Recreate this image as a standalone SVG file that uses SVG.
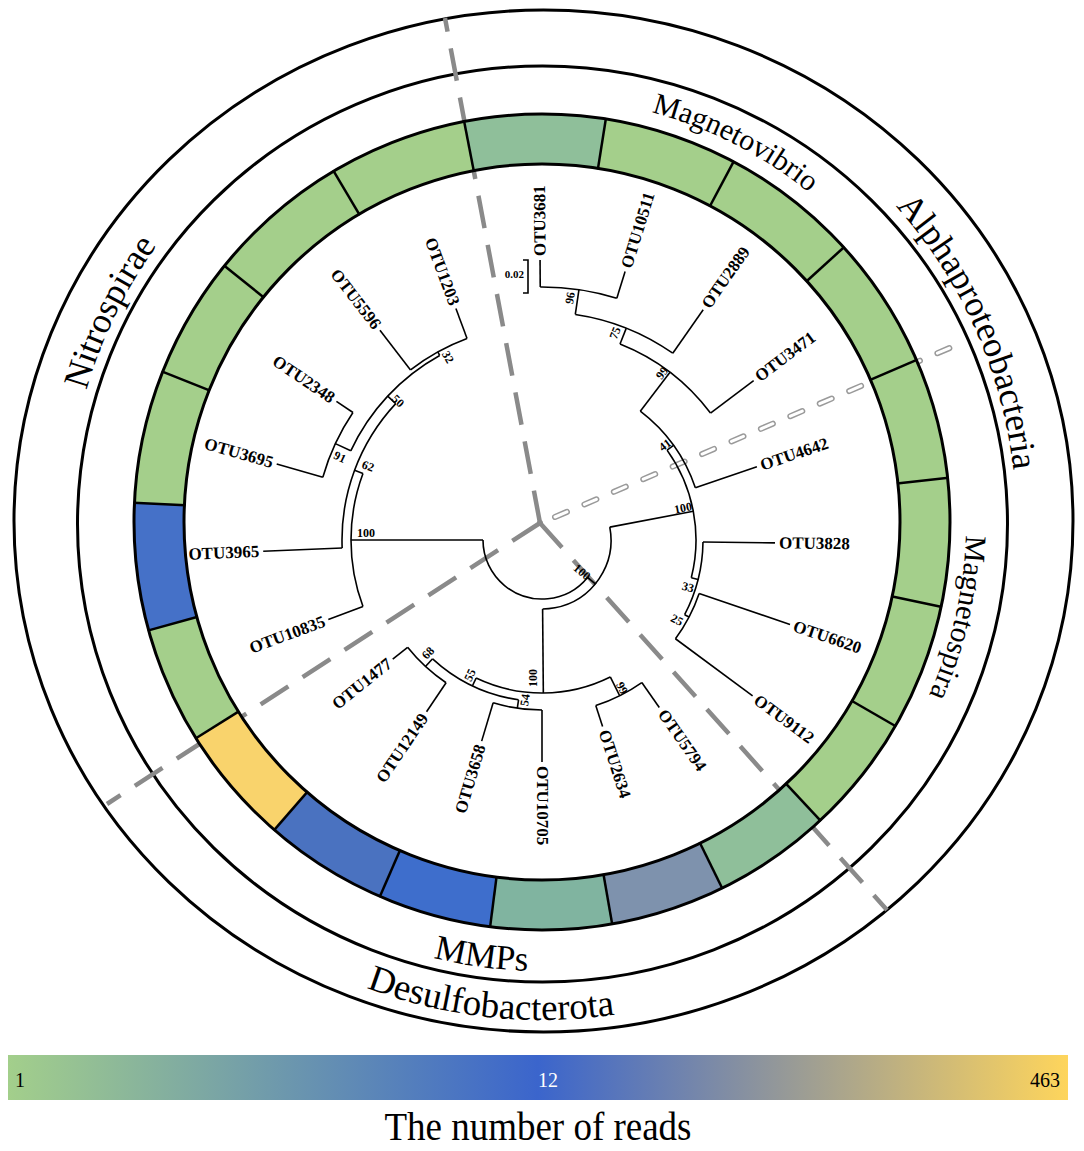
<svg xmlns="http://www.w3.org/2000/svg" width="1084" height="1151" viewBox="0 0 1084 1151">
<defs>
<linearGradient id="gbar" x1="0" x2="1" y1="0" y2="0">
<stop offset="0" stop-color="#a3cf8b"/>
<stop offset="0.5" stop-color="#3b65cc"/>
<stop offset="1" stop-color="#fed55c"/>
</linearGradient>
<path id="tpIn" d="M542 98 A424 424 0 1 1 542 946 A424 424 0 1 1 542 98"/>
<path id="tpOut" d="M542 48 A474 474 0 1 1 542 996 A474 474 0 1 1 542 48"/>
<path id="tpMMP" d="M542 73 A449 449 0 1 0 542 971 A449 449 0 1 0 542 73"/>
<path id="tpDes" d="M542 24 A498 498 0 1 0 542 1020 A498 498 0 1 0 542 24"/>
<style>
.rg{fill:none;stroke:#000;stroke-width:3}
.br{fill:none;stroke:#000;stroke-width:1.6}
.arc{fill:none;stroke:#000;stroke-width:1.6}
.hs{fill:none;stroke-width:50}
.hb{stroke:#000;stroke-width:2.5}
.dsh{stroke:#8a8a8a;stroke-width:4.5;stroke-dasharray:33 17}
.lf{font-family:"Liberation Serif",serif;font-weight:bold;font-size:17px;dominant-baseline:central}
.bs{font-family:"Liberation Serif",serif;font-weight:bold;font-size:12px;text-anchor:middle;dominant-baseline:central}
.lb{font-family:"Liberation Serif",serif;font-size:30px;text-anchor:middle}
.lo{font-family:"Liberation Serif",serif;font-size:36px;text-anchor:middle}
.lm{font-family:"Liberation Serif",serif;font-size:35px;text-anchor:middle}
.ld{font-family:"Liberation Serif",serif;font-size:37px;text-anchor:middle}
.cb{font-family:"Liberation Serif",serif;font-size:20px}
</style>
</defs>
<rect width="1084" height="1151" fill="#fff"/>

<g id="label-rings">
<ellipse cx="543.5" cy="521" rx="529.5" ry="511" class="rg"/>
<ellipse cx="542.5" cy="524" rx="465" ry="458" class="rg"/>
</g>

<g id="dividers">
<line x1="540" y1="523" x2="445" y2="18" class="dsh"/>
<line x1="540" y1="523" x2="887" y2="910" class="dsh"/>
<line x1="540" y1="523" x2="107" y2="804" class="dsh"/>
<line x1="555" y1="517" x2="966" y2="341" stroke="#9a9a9a" stroke-width="6" stroke-linecap="round" stroke-dasharray="13 19"/>
<line x1="555" y1="517" x2="966" y2="341" stroke="#fff" stroke-width="3" stroke-linecap="round" stroke-dasharray="13 19"/>
<circle cx="540" cy="523" r="3" fill="#888"/>
</g>

<g id="heatmap" transform="translate(542 522)">
<circle r="383" class="hs" stroke="#a4cf8b"/>
<circle r="383" class="hs" pathLength="360" stroke-dasharray="20 400" transform="rotate(-101)" stroke="#8fbf9a"/>
<circle r="383" class="hs" pathLength="360" stroke-dasharray="16.8 400" transform="rotate(47)" stroke="#8fbf9a"/>
<circle r="383" class="hs" pathLength="360" stroke-dasharray="16.3 400" transform="rotate(63.8)" stroke="#7e92ad"/>
<circle r="383" class="hs" pathLength="360" stroke-dasharray="17.2 400" transform="rotate(80.1)" stroke="#80b4a0"/>
<circle r="383" class="hs" pathLength="360" stroke-dasharray="16.1 400" transform="rotate(97.3)" stroke="#3e6ecc"/>
<circle r="383" class="hs" pathLength="360" stroke-dasharray="17.6 400" transform="rotate(113.4)" stroke="#4a72c0"/>
<circle r="383" class="hs" pathLength="360" stroke-dasharray="17 400" transform="rotate(131)" stroke="#f9d36c"/>
<circle r="383" class="hs" pathLength="360" stroke-dasharray="18.1 400" transform="rotate(164.6)" stroke="#4571c8"/>
<g class="hb">
<line y1="-357" y2="-409" transform="rotate(-11)"/>
<line y1="-357" y2="-409" transform="rotate(9)"/>
<line y1="-357" y2="-409" transform="rotate(28)"/>
<line y1="-357" y2="-409" transform="rotate(47.7)"/>
<line y1="-357" y2="-409" transform="rotate(66.6)"/>
<line y1="-357" y2="-409" transform="rotate(83.8)"/>
<line y1="-357" y2="-409" transform="rotate(102)"/>
<line y1="-357" y2="-409" transform="rotate(120)"/>
<line y1="-357" y2="-409" transform="rotate(137)"/>
<line y1="-357" y2="-409" transform="rotate(153.8)"/>
<line y1="-357" y2="-409" transform="rotate(170.1)"/>
<line y1="-357" y2="-409" transform="rotate(187.3)"/>
<line y1="-357" y2="-409" transform="rotate(203.4)"/>
<line y1="-357" y2="-409" transform="rotate(221)"/>
<line y1="-357" y2="-409" transform="rotate(238)"/>
<line y1="-357" y2="-409" transform="rotate(254.6)"/>
<line y1="-357" y2="-409" transform="rotate(272.7)"/>
<line y1="-357" y2="-409" transform="rotate(291.6)"/>
<line y1="-357" y2="-409" transform="rotate(308.9)"/>
<line y1="-357" y2="-409" transform="rotate(329.3)"/>
</g>
<circle r="358" class="rg"/>
<circle r="408" class="rg"/>
</g>

<g id="connectors" transform="translate(542 540)">
<g class="arc">
<circle r="59" pathLength="360" stroke-dasharray="140.6 400" transform="rotate(39.4)"/>
<circle r="69" pathLength="360" stroke-dasharray="100.25 400" transform="rotate(-10.75)"/>
<circle r="154" pathLength="360" stroke-dasharray="49.9 400" transform="rotate(-35.7)"/>
<circle r="162" pathLength="360" stroke-dasharray="33.85 400" transform="rotate(-52.65)"/>
<circle r="211" pathLength="360" stroke-dasharray="31.3 400" transform="rotate(-68.3)"/>
<circle r="228" pathLength="360" stroke-dasharray="26.6 400" transform="rotate(-81.6)"/>
<circle r="253" pathLength="360" stroke-dasharray="17.6 400" transform="rotate(-90.4)"/>
<circle r="161" pathLength="360" stroke-dasharray="26.95 400" transform="rotate(0.7)"/>
<circle r="166" pathLength="360" stroke-dasharray="17.7 400" transform="rotate(18.8)"/>
<circle r="153" pathLength="360" stroke-dasharray="52 400" transform="rotate(63.5)"/>
<circle r="174" pathLength="360" stroke-dasharray="17 400" transform="rotate(55)"/>
<circle r="161.5" pathLength="360" stroke-dasharray="34.3 400" transform="rotate(98.35)"/>
<circle r="170" pathLength="360" stroke-dasharray="16.7 400" transform="rotate(90)"/>
<circle r="172" pathLength="360" stroke-dasharray="17.5 400" transform="rotate(123.9)"/>
<circle r="191" pathLength="360" stroke-dasharray="40.8 400" transform="rotate(159.6)"/>
<circle r="200" pathLength="360" stroke-dasharray="45.3 400" transform="rotate(177.7)"/>
<circle r="211" pathLength="360" stroke-dasharray="36 400" transform="rotate(205)"/>
<circle r="228" pathLength="360" stroke-dasharray="18 400" transform="rotate(196)"/>
<circle r="215" pathLength="360" stroke-dasharray="17.3 400" transform="rotate(232.3)"/>
</g>
<g class="br">
<line y1="-59" y2="-69" transform="rotate(129.4)"/>
<line y1="-69" y2="-154" transform="rotate(79.25)"/>
<line y1="-69" y2="-153" transform="rotate(179.5)"/>
<line y1="-59" y2="-191" transform="rotate(270)"/>
<line y1="-154" y2="-162" transform="rotate(54.3)"/>
<line y1="-162" y2="-227" transform="rotate(71.2)"/>
<line y1="-162" y2="-211" transform="rotate(37.35)"/>
<line y1="-211" y2="-265" transform="rotate(53)"/>
<line y1="-211" y2="-228" transform="rotate(21.7)"/>
<line y1="-228" y2="-281" transform="rotate(35)"/>
<line y1="-228" y2="-253" transform="rotate(8.4)"/>
<line y1="-253" y2="-280" transform="rotate(-0.4)"/>
<line y1="-253" y2="-281" transform="rotate(17.2)"/>
<line y1="-154" y2="-161" transform="rotate(104.2)"/>
<line y1="-161" y2="-233" transform="rotate(90.7)"/>
<line y1="-161" y2="-166" transform="rotate(117.65)"/>
<line y1="-166" y2="-262" transform="rotate(108.8)"/>
<line y1="-166" y2="-262" transform="rotate(126.5)"/>
<line y1="-153" y2="-174" transform="rotate(153.5)"/>
<line y1="-174" y2="-204.5" transform="rotate(145)"/>
<line y1="-174" y2="-196" transform="rotate(162)"/>
<line y1="-153" y2="-161.5" transform="rotate(205.5)"/>
<line y1="-161.5" y2="-170" transform="rotate(188.35)"/>
<line y1="-170" y2="-222" transform="rotate(180)"/>
<line y1="-170" y2="-210" transform="rotate(196.7)"/>
<line y1="-161.5" y2="-172" transform="rotate(222.65)"/>
<line y1="-172" y2="-207" transform="rotate(213.9)"/>
<line y1="-172" y2="-191" transform="rotate(231.4)"/>
<line y1="-191" y2="-228" transform="rotate(249.6)"/>
<line y1="-191" y2="-200" transform="rotate(290.4)"/>
<line y1="-200" y2="-279" transform="rotate(267.7)"/>
<line y1="-200" y2="-211" transform="rotate(313)"/>
<line y1="-211" y2="-228" transform="rotate(295)"/>
<line y1="-228" y2="-276" transform="rotate(286)"/>
<line y1="-228" y2="-248" transform="rotate(304)"/>
<line y1="-211" y2="-215" transform="rotate(331)"/>
<line y1="-215" y2="-265" transform="rotate(322.3)"/>
<line y1="-215" y2="-247" transform="rotate(339.6)"/>
</g>
</g>

<g id="leaves" transform="translate(542 540)">
<g id="OTU3681"><text class="lf" transform="rotate(-90.4) translate(284 0)">OTU3681</text></g>
<g id="OTU10511"><text class="lf" transform="rotate(-72.8) translate(285 0)">OTU10511</text></g>
<g id="OTU2889"><text class="lf" transform="rotate(-55) translate(285 0)">OTU2889</text></g>
<g id="OTU3471"><text class="lf" transform="rotate(-37) translate(269 0)">OTU3471</text></g>
<g id="OTU4642"><text class="lf" transform="rotate(-18.8) translate(231 0)">OTU4642</text></g>
<g id="OTU3828"><text class="lf" transform="rotate(0.7) translate(237 0)">OTU3828</text></g>
<g id="OTU6620"><text class="lf" transform="rotate(18.8) translate(266 0)">OTU6620</text></g>
<g id="OTU9112"><text class="lf" transform="rotate(36.5) translate(266 0)">OTU9112</text></g>
<g id="OTU5794"><text class="lf" transform="rotate(55) translate(209 0)">OTU5794</text></g>
<g id="OTU2634"><text class="lf" transform="rotate(72) translate(200 0)">OTU2634</text></g>
<g id="OTU10705"><text class="lf" transform="rotate(90) translate(226 0)">OTU10705</text></g>
<g id="OTU3658"><text class="lf" text-anchor="end" transform="rotate(-73.3) translate(-214 0)">OTU3658</text></g>
<g id="OTU12149"><text class="lf" text-anchor="end" transform="rotate(-56.1) translate(-211 0)">OTU12149</text></g>
<g id="OTU1477"><text class="lf" text-anchor="end" transform="rotate(-38.6) translate(-195 0)">OTU1477</text></g>
<g id="OTU10835"><text class="lf" text-anchor="end" transform="rotate(-20.4) translate(-232 0)">OTU10835</text></g>
<g id="OTU3965"><text class="lf" text-anchor="end" transform="rotate(-2.3) translate(-283 0)">OTU3965</text></g>
<g id="OTU3695"><text class="lf" text-anchor="end" transform="rotate(16) translate(-280 0)">OTU3695</text></g>
<g id="OTU2348"><text class="lf" text-anchor="end" transform="rotate(34) translate(-252 0)">OTU2348</text></g>
<g id="OTU5596"><text class="lf" text-anchor="end" transform="rotate(52.3) translate(-269 0)">OTU5596</text></g>
<g id="OTU1203"><text class="lf" text-anchor="end" transform="rotate(69.6) translate(-251 0)">OTU1203</text></g>
</g>

<g id="bootstrap">
<text class="bs" x="570" y="298" transform="rotate(-81 570 298)">96</text>
<text class="bs" x="615" y="333" transform="rotate(-68 615 333)">75</text>
<text class="bs" x="662" y="373" transform="rotate(-52.5 662 373)">99</text>
<text class="bs" x="665" y="445" transform="rotate(-36 665 445)">41</text>
<text class="bs" x="683" y="508" transform="rotate(-11 683 508)">100</text>
<text class="bs" x="688" y="587" transform="rotate(14 688 587)">33</text>
<text class="bs" x="677" y="620" transform="rotate(27 677 620)">25</text>
<text class="bs" x="582" y="572" transform="rotate(40 582 572)">100</text>
<text class="bs" x="622" y="688" transform="rotate(63.5 622 688)">99</text>
<text class="bs" x="533" y="678" transform="rotate(-90 533 678)">100</text>
<text class="bs" x="525" y="700" transform="rotate(-81.5 525 700)">54</text>
<text class="bs" x="470" y="675" transform="rotate(-64 470 675)">55</text>
<text class="bs" x="428" y="653" transform="rotate(-47 428 653)">68</text>
<text class="bs" x="366" y="533">100</text>
<text class="bs" x="368" y="466" transform="rotate(20 368 466)">62</text>
<text class="bs" x="340" y="457" transform="rotate(25 340 457)">91</text>
<text class="bs" x="398" y="401" transform="rotate(43 398 401)">50</text>
<text class="bs" x="448" y="357" transform="rotate(61 448 357)">32</text>
</g>

<g id="scale-bar">
<path d="M523 260 H528 V293 H523" class="br"/>
<text x="524" y="278" font-family="Liberation Serif, serif" font-weight="bold" font-size="11" text-anchor="end">0.02</text>
</g>

<g id="clade-labels">
<text class="lb"><textPath href="#tpIn" startOffset="7.5%">Magnetovibrio</textPath></text>
<text class="lb"><textPath href="#tpIn" startOffset="28.6%">Magnetospira</textPath></text>
<text class="lo"><textPath href="#tpOut" startOffset="18.33%">Alphaproteobacteria</textPath></text>
<text class="lo"><textPath href="#tpOut" startOffset="82.2%">Nitrospirae</textPath></text>
<text class="lm"><textPath href="#tpMMP" startOffset="47.8%">MMPs</textPath></text>
<text class="ld"><textPath href="#tpDes" startOffset="48.3%">Desulfobacterota</textPath></text>
</g>

<g id="colorbar">
<rect x="8" y="1055" width="1060" height="45" fill="url(#gbar)"/>
<text class="cb" x="15" y="1087">1</text>
<text class="cb" x="548" y="1087" fill="#fff" text-anchor="middle">12</text>
<text class="cb" x="1060" y="1087" text-anchor="end">463</text>
<text x="538" y="1140" font-family="Liberation Serif, serif" font-size="40" text-anchor="middle" textLength="307" lengthAdjust="spacingAndGlyphs">The number of reads</text>
</g>
</svg>
